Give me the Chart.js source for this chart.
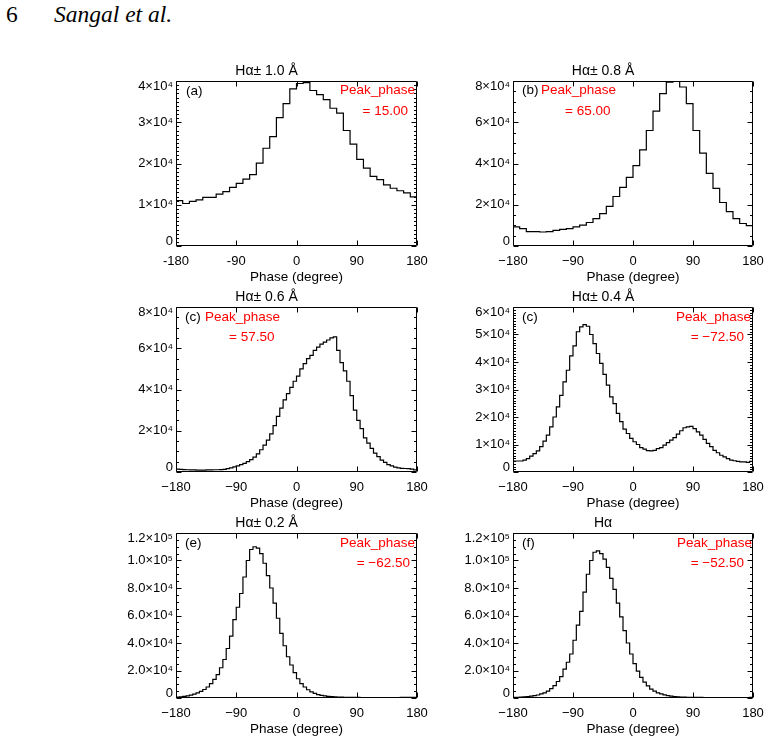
<!DOCTYPE html>
<html><head><meta charset="utf-8">
<script src="https://cdn.jsdelivr.net/npm/chart.js@4/dist/chart.umd.min.js"></script>
<style>
html,body{margin:0;padding:0;background:#fff;}
body{width:770px;height:743px;position:relative;overflow:hidden;}
canvas{position:absolute;}
.hdr{position:absolute;font-family:'Liberation Serif','Times New Roman',serif;font-size:23.5px;line-height:23.5px;color:#000;white-space:nowrap;}
</style></head><body>
<div class="hdr" style="left:6px;top:3px">6</div>
<div class="hdr" style="left:54px;top:3px;font-style:italic">Sangal et al.</div>
<script>
// ---------- DATA ----------
const phaseTicks = [-180, -90, 0, 90, 180];
const xLabelsHyphen = ['-180', '-90', '0', '90', '180'];
const xLabelsMinus = ['\u2212180', '\u221290', '0', '90', '180'];

const phaseCenters10 = [-175,-165,-155,-145,-135,-125,-115,-105,-95,-85,-75,-65,-55,-45,-35,-25,-15,-5,
  5,15,25,35,45,55,65,75,85,95,105,115,125,135,145,155,165,175];
const phaseCenters5 = [-177.5,-172.5,-167.5,-162.5,-157.5,-152.5,-147.5,-142.5,-137.5,-132.5,-127.5,-122.5,
  -117.5,-112.5,-107.5,-102.5,-97.5,-92.5,-87.5,-82.5,-77.5,-72.5,-67.5,-62.5,-57.5,-52.5,-47.5,-42.5,
  -37.5,-32.5,-27.5,-22.5,-17.5,-12.5,-7.5,-2.5,2.5,7.5,12.5,17.5,22.5,27.5,32.5,37.5,42.5,47.5,52.5,57.5,
  62.5,67.5,72.5,77.5,82.5,87.5,92.5,97.5,102.5,107.5,112.5,117.5,122.5,127.5,132.5,137.5,142.5,147.5,
  152.5,157.5,162.5,167.5,172.5,177.5];

const countsA = [11000,10300,10800,11200,11800,11800,12600,13200,14200,15200,16200,17300,20100,23700,26500,
  31100,34500,38100,39400,39600,37700,36700,35500,33400,32200,28000,24700,21000,18900,16900,16100,14800,
  14000,13400,12900,11900];
const countsB = [9300,8400,7000,7000,6800,7000,7600,8100,8400,9300,10100,11400,13300,15700,19200,24000,28400,
  33300,39000,46600,56000,65400,73900,79500,79900,77100,69000,56000,45000,35200,27900,21100,16700,13300,
  10900,9900];
const countsC = [1400,1300,1200,1100,1000,1000,900,900,900,1000,1000,1100,1100,
  1200,1300,1600,2000,2500,3000,3600,4200,
  5000,6000,7200,8800,10800,13000,15500,18500,
  22500,27000,31000,35000,38000,41000,44000,46500,50000,52500,55000,56500,59000,60500,62000,63000,64000,65000,65500,
  59000,53000,49000,44000,37000,30000,25000,21000,16500,14000,11500,9200,7500,5800,4700,3600,3000,2400,2000,
  1800,1700,1600,1400,1000];
const countsD = [4000,4000,4000,4300,4900,5800,6700,7700,9200,11200,13400,16400,20000,23700,27900,32800,37000,
  42200,45900,51000,52800,53600,53000,50000,46700,43100,39500,35500,31600,27300,24900,21300,18300,15600,
  14000,12200,11000,10000,8900,8300,7800,7700,7900,8500,8900,9800,10700,11600,12500,13800,15000,16100,
  16400,16600,15800,14600,13400,11900,10400,9200,7900,7000,6100,5500,4900,4300,4100,3900,3700,3700,3500,3900];
const countsE = [700,900,1200,1600,2100,2800,3700,4800,6200,8000,10500,13500,17000,22000,28000,36000,45000,
  57000,66000,76000,88000,100000,108000,110000,109000,105000,98000,89000,80000,69000,58000,47000,38000,
  30000,24000,18500,14000,10500,8000,6000,4500,3300,2500,1900,1500,1200,1000,800,
  700,600,500,500,400,400,400,300,300,300,300,300,300,300,300,300,300,300,300,400,400,400,500,500];
const countsF = [400,500,600,800,1000,1300,1700,2200,3000,3800,5000,6800,9000,12000,15500,21000,26000,32000,
  42000,53000,63000,77000,90000,100000,106000,107000,105000,101000,95000,87000,79000,69000,59000,49000,
  40000,32000,25000,19500,15000,11500,8800,6500,5000,3800,3000,2300,1800,1400,1100,900,700,600,500,
  500,400,400,400,300,300,300,300,300,300,300,300,300,300,300,300,300,300,400];

const yTicksA = [0, 10000, 20000, 30000, 40000];
const yLabelsA = ['0', '1\u00d710\u2074', '2\u00d710\u2074', '3\u00d710\u2074', '4\u00d710\u2074'];
const yTicksB = [0, 20000, 40000, 60000, 80000];
const yLabelsB = ['0', '2\u00d710\u2074', '4\u00d710\u2074', '6\u00d710\u2074', '8\u00d710\u2074'];
const yTicksD = [0, 10000, 20000, 30000, 40000, 50000, 60000];
const yLabelsD = ['0', '1\u00d710\u2074', '2\u00d710\u2074', '3\u00d710\u2074', '4\u00d710\u2074', '5\u00d710\u2074', '6\u00d710\u2074'];
const yTicksE = [0, 20000, 40000, 60000, 80000, 100000, 120000];
const yLabelsE = ['0', '2.0\u00d710\u2074', '4.0\u00d710\u2074', '6.0\u00d710\u2074', '8.0\u00d710\u2074', '1.0\u00d710\u2075', '1.2\u00d710\u2075'];

const titles = ['H\u03b1\u00b1 1.0 \u00c5', 'H\u03b1\u00b1 0.8 \u00c5', 'H\u03b1\u00b1 0.6 \u00c5', 'H\u03b1\u00b1 0.4 \u00c5', 'H\u03b1\u00b1 0.2 \u00c5', 'H\u03b1'];
const xTitle = 'Phase (degree)';

// ---------- STYLE / LAYOUT ----------
const FONT = "'Liberation Sans', Arial, Helvetica, sans-serif";
const RED = '#ff0000';
Chart.defaults.font.family = FONT;
Chart.defaults.color = '#000';

const PLOT_H = 165;
const panels = [
  {key:'a', L:176, T:81,  W:241, title:titles[0], centers:phaseCenters10, counts:countsA, yMax:40000, yTicks:yTicksA, yLabels:yLabelsA, yMinor:1000, xLabels:xLabelsHyphen,
   notes:[{t:'(a)',c:'#000',al:'left',dx:10,dy:10.5},{t:'Peak_phase',c:RED,al:'right',dx:2,dy:9.5},{t:'= 15.00',c:RED,al:'right',dx:9,dy:30}]},
  {key:'b', L:513, T:81,  W:240, title:titles[1], centers:phaseCenters10, counts:countsB, yMax:80000, yTicks:yTicksB, yLabels:yLabelsB, yMinor:5000, xLabels:xLabelsMinus,
   notes:[{t:'(b)',c:'#000',al:'left',dx:9,dy:9.5},{t:'Peak_phase',c:RED,al:'left',dx:28,dy:9.5},{t:'= 65.00',c:RED,al:'left',dx:52,dy:30}]},
  {key:'c', L:176, T:307, W:241, title:titles[2], centers:phaseCenters5, counts:countsC, yMax:80000, yTicks:yTicksB, yLabels:yLabelsB, yMinor:5000, xLabels:xLabelsMinus,
   notes:[{t:'(c)',c:'#000',al:'left',dx:9,dy:10},{t:'Peak_phase',c:RED,al:'left',dx:29,dy:10},{t:'= 57.50',c:RED,al:'left',dx:53,dy:30.5}]},
  {key:'d', L:513, T:307, W:240, title:titles[3], centers:phaseCenters5, counts:countsD, yMax:60000, yTicks:yTicksD, yLabels:yLabelsD, yMinor:1000, xLabels:xLabelsMinus,
   notes:[{t:'(c)',c:'#000',al:'left',dx:9,dy:10},{t:'Peak_phase',c:RED,al:'right',dx:2,dy:10},{t:'= \u221272.50',c:RED,al:'right',dx:9,dy:30}]},
  {key:'e', L:176, T:533, W:241, title:titles[4], centers:phaseCenters5, counts:countsE, yMax:120000, yTicks:yTicksE, yLabels:yLabelsE, yMinor:5000, xLabels:xLabelsMinus,
   notes:[{t:'(e)',c:'#000',al:'left',dx:9,dy:10},{t:'Peak_phase',c:RED,al:'right',dx:2,dy:10},{t:'= \u221262.50',c:RED,al:'right',dx:7,dy:30}]},
  {key:'f', L:513, T:533, W:240, title:titles[5], centers:phaseCenters5, counts:countsF, yMax:120000, yTicks:yTicksE, yLabels:yLabelsE, yMinor:5000, xLabels:xLabelsMinus,
   notes:[{t:'(f)',c:'#000',al:'left',dx:9,dy:10},{t:'Peak_phase',c:RED,al:'right',dx:1,dy:10},{t:'= \u221252.50',c:RED,al:'right',dx:9,dy:30}]}
];

// histogram outline table: bin edges built from bin centres (needed for a stepped line)
function stepTable(centers, counts) {
  const w = centers[1] - centers[0];
  const pts = centers.map((c, i) => ({x: c - w / 2, y: counts[i]}));
  pts.push({x: centers[centers.length - 1] + w / 2, y: counts[counts.length - 1]});
  return pts;
}

const frame = {
  id: 'frame',
  afterDraw(chart, args, o) {
    const {ctx, chartArea: a, scales: {x, y}} = chart;
    const l = Math.round(a.left) + 0.5, r = Math.round(a.right) - 0.5;
    const t = Math.round(a.top) + 0.5, b = Math.round(a.bottom) - 0.5;
    ctx.save();
    ctx.strokeStyle = '#000';
    ctx.lineWidth = 1;
    ctx.beginPath();
    ctx.rect(l, t, r - l, b - t);
    x.ticks.forEach(tk => {
      const px = Math.round(x.getPixelForValue(tk.value)) + 0.5;
      ctx.moveTo(px, b); ctx.lineTo(px, b - 5);
      ctx.moveTo(px, t); ctx.lineTo(px, t + 5);
    });
    for (let v = 0; v <= o.yMax + 1e-6; v += o.yMinor) {
      const py = Math.round(y.getPixelForValue(v)) + 0.5;
      const len = o.yTicks.includes(v) ? 5 : 2.5;
      ctx.moveTo(l, py); ctx.lineTo(l + len, py);
      ctx.moveTo(r, py); ctx.lineTo(r - len, py);
    }
    ctx.stroke();
    ctx.font = '13.5px ' + FONT;
    ctx.textBaseline = 'middle';
    o.notes.forEach(n => {
      ctx.fillStyle = n.c;
      ctx.textAlign = n.al;
      const px = n.al === 'left' ? a.left + n.dx : a.right - n.dx;
      ctx.fillText(n.t, px, a.top + n.dy);
    });
    ctx.restore();
  }
};

panels.forEach(p => {
  const cv = document.createElement('canvas');
  const cw = p.W + 75, ch = 20 + PLOT_H + 42;
  cv.width = cw; cv.height = ch;
  cv.style.left = (p.L - 60) + 'px';
  cv.style.top = (p.T - 20) + 'px';
  cv.style.width = cw + 'px'; cv.style.height = ch + 'px';
  document.body.appendChild(cv);
  const last = p.yTicks.length - 1;

  new Chart(cv, {
    type: 'line',
    data: {
      datasets: [{
        data: stepTable(p.centers, p.counts),
        stepped: 'before',
        borderColor: '#000',
        borderWidth: 1.2,
        pointRadius: 0,
        fill: false
      }]
    },
    options: {
      responsive: false,
      animation: false,
      devicePixelRatio: 1,
      events: [],
      layout: {padding: {left: 0, right: 15, top: 0, bottom: 0}},
      plugins: {
        legend: {display: false},
        tooltip: {enabled: false},
        title: {display: true, text: p.title, color: '#000',
          font: {size: 14, family: FONT, weight: 'normal'}, padding: {top: 1.6, bottom: 1.6}},
        frame: {yMax: p.yMax, yMinor: p.yMinor, yTicks: p.yTicks, notes: p.notes}
      },
      scales: {
        x: {
          type: 'linear', min: -180, max: 180,
          afterBuildTicks: s => { s.ticks = phaseTicks.map(v => ({value: v})); },
          ticks: {
            autoSkip: false, maxRotation: 0, padding: 8,
            font: {size: 13, family: FONT}, color: '#000',
            callback: (v) => p.xLabels[phaseTicks.indexOf(v)]
          },
          grid: {display: false, drawTicks: false},
          border: {display: false},
          title: {display: true, text: xTitle, color: '#000', font: {size: 13.5, family: FONT}, padding: {top: 0, bottom: 3}},
          afterFit: s => { s.height = 42; s.paddingLeft = 0; s.paddingRight = 0; }
        },
        y: {
          type: 'linear', min: 0, max: p.yMax,
          afterBuildTicks: s => { s.ticks = p.yTicks.map(v => ({value: v})); },
          ticks: {
            autoSkip: false, padding: 3,
            font: (c) => ({size: 13, family: FONT, lineHeight: (c.index === 0 || c.index === last) ? '10px' : 1.2}),
            color: '#000',
            // end labels sit just inside the frame, as in the original figure
            callback: (v, i) => {
              const s = p.yLabels[p.yTicks.indexOf(v)];
              if (i === 0) return [s, ''];
              if (i === last) return ['', s];
              return s;
            }
          },
          grid: {display: false, drawTicks: false},
          border: {display: false},
          afterFit: s => { s.width = 60; s.paddingTop = 0; s.paddingBottom = 0; }
        }
      }
    },
    plugins: [frame]
  });
});
</script>
</body></html>
